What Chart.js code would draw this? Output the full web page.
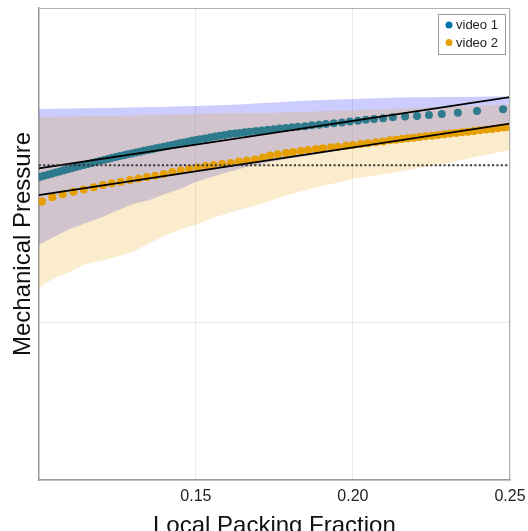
<!DOCTYPE html>
<html>
<head>
<meta charset="utf-8">
<script src="https://cdn.jsdelivr.net/npm/chart.js@4/dist/chart.umd.min.js"></script>
<style>
html,body{margin:0;padding:0;background:#fff;}
#wrap{width:528px;height:531px;}
</style>
</head>
<body>
<div id="wrap"><canvas id="c" width="528" height="531"></canvas></div>
<script>
// ---------- data ----------
const seriesNames = ["video 1", "video 2"];
const xTickValues = [0.15, 0.20, 0.25];

const blueX = [0.1003,0.1016,0.1029,0.1041,0.1054,0.1067,0.1080,0.1092,0.1105,0.1118,0.1131,0.1143,0.1156,0.1169,0.1182,0.1194,0.1207,0.1220,0.1232,0.1245,0.1258,0.1271,0.1283,0.1296,0.1309,0.1322,0.1334,0.1347,0.1360,0.1373,0.1385,0.1398,0.1411,0.1424,0.1436,0.1449,0.1462,0.1475,0.1487,0.1500,0.1513,0.1529,0.1545,0.1561,0.1576,0.1592,0.1608,0.1624,0.1640,0.1656,0.1672,0.1691,0.1710,0.1729,0.1748,0.1767,0.1787,0.1806,0.1825,0.1847,0.1869,0.1892,0.1914,0.1939,0.1965,0.1990,0.2016,0.2041,0.2067,0.2096,0.2127,0.2166,0.2204,0.2242,0.2283,0.2334,0.2395,0.2478];
const blueY = [1.926,1.933,1.940,1.947,1.954,1.961,1.968,1.975,1.982,1.989,1.996,2.002,2.008,2.015,2.021,2.028,2.034,2.040,2.047,2.053,2.059,2.064,2.070,2.075,2.081,2.086,2.092,2.097,2.103,2.108,2.113,2.118,2.124,2.129,2.134,2.140,2.145,2.150,2.156,2.161,2.165,2.171,2.177,2.183,2.188,2.193,2.199,2.203,2.206,2.210,2.213,2.218,2.222,2.226,2.230,2.234,2.238,2.242,2.246,2.249,2.254,2.258,2.262,2.267,2.273,2.279,2.284,2.289,2.294,2.300,2.305,2.310,2.314,2.320,2.326,2.335,2.345,2.356];

const orangeX = [0.1010,0.1043,0.1076,0.1110,0.1143,0.1175,0.1204,0.1232,0.1261,0.1290,0.1317,0.1344,0.1371,0.1398,0.1425,0.1452,0.1479,0.1506,0.1532,0.1557,0.1584,0.1611,0.1637,0.1662,0.1688,0.1713,0.1736,0.1761,0.1787,0.1809,0.1834,0.1857,0.1882,0.1904,0.1930,0.1952,0.1978,0.2000,0.2025,0.2048,0.2073,0.2096,0.2118,0.2137,0.2156,0.2175,0.2194,0.2213,0.2232,0.2252,0.2271,0.2290,0.2309,0.2328,0.2347,0.2366,0.2385,0.2404,0.2424,0.2443,0.2462,0.2481,0.2497];
const orangeY = [1.770,1.797,1.816,1.832,1.846,1.860,1.875,1.886,1.896,1.907,1.917,1.926,1.933,1.945,1.957,1.967,1.977,1.986,1.996,2.002,2.008,2.015,2.024,2.031,2.037,2.050,2.063,2.070,2.078,2.085,2.091,2.097,2.104,2.108,2.115,2.118,2.125,2.129,2.136,2.140,2.146,2.152,2.159,2.163,2.167,2.172,2.176,2.180,2.185,2.188,2.193,2.197,2.202,2.206,2.210,2.214,2.218,2.223,2.227,2.231,2.235,2.240,2.244];

const bandX = [0.100,0.105,0.110,0.115,0.120,0.125,0.130,0.135,0.140,0.145,0.150,0.155,0.160,0.165,0.170,0.175,0.180,0.185,0.190,0.195,0.200,0.205,0.210,0.215,0.220,0.225,0.230,0.235,0.240,0.245,0.250];
const blueUpper = [2.358,2.360,2.361,2.363,2.364,2.366,2.368,2.370,2.371,2.375,2.377,2.380,2.383,2.388,2.394,2.399,2.405,2.410,2.415,2.418,2.422,2.425,2.428,2.431,2.432,2.433,2.434,2.435,2.436,2.437,2.438];
const blueLower = [1.494,1.547,1.597,1.633,1.670,1.713,1.755,1.778,1.816,1.850,1.894,1.926,1.956,1.983,2.005,2.026,2.043,2.059,2.075,2.091,2.107,2.124,2.139,2.155,2.167,2.179,2.191,2.204,2.217,2.230,2.244];
const orangeUpper = [2.307,2.309,2.310,2.312,2.314,2.315,2.317,2.320,2.322,2.325,2.328,2.329,2.332,2.333,2.333,2.335,2.338,2.341,2.343,2.347,2.350,2.354,2.357,2.361,2.364,2.368,2.370,2.375,2.380,2.384,2.387];
const orangeLower = [1.220,1.286,1.324,1.375,1.394,1.421,1.450,1.503,1.552,1.592,1.624,1.662,1.695,1.724,1.750,1.783,1.817,1.844,1.868,1.890,1.913,1.929,1.945,1.961,1.979,1.997,2.015,2.036,2.057,2.077,2.097];

const fitX = [0.10, 0.25];
const fit1Y = [1.981, 2.434];
const fit2Y = [1.811, 2.265];
const refLevel = 2.0;

// ---------- build ----------
const zip = (xs, ys) => xs.map((x, i) => ({x: x, y: ys[i]}));
const BLUE = '#0072B2', ORANGE = '#E69F00';
const FONT = "'Liberation Sans', Arial, Helvetica, sans-serif";

const frameAndLegend = {
  id: 'frameAndLegend',
  afterDatasetsDraw(chart) {
    const {ctx, chartArea: a} = chart;
    ctx.save();
    ctx.strokeStyle = '#b0b0b0';
    ctx.lineWidth = 1;
    ctx.beginPath();
    ctx.moveTo(a.left, a.top + 0.5); ctx.lineTo(a.right - 0.5, a.top + 0.5); ctx.lineTo(a.right - 0.5, a.bottom);
    ctx.stroke();
    // legend box
    const bw = 67, bh = 40;
    const bx = a.right - 5 - bw, by = a.top + 6;
    ctx.fillStyle = '#fff';
    ctx.fillRect(bx, by, bw, bh);
    ctx.strokeStyle = '#999';
    ctx.strokeRect(bx + 0.5, by + 0.5, bw, bh);
    const cols = [BLUE, ORANGE];
    ctx.font = '13px ' + FONT;
    ctx.textBaseline = 'middle';
    ctx.textAlign = 'left';
    seriesNames.forEach((n, i) => {
      const cy = by + 11 + i * 17.5;
      ctx.fillStyle = cols[i];
      ctx.beginPath(); ctx.arc(bx + 11, cy, 3.5, 0, Math.PI * 2); ctx.fill();
      ctx.fillStyle = '#222';
      ctx.fillText(n, bx + 18, cy + 0.5);
    });
    ctx.restore();
  }
};

new Chart(document.getElementById('c'), {
  type: 'line',
  data: {
    datasets: [
      {label: 'band1u', data: zip(bandX, blueUpper), borderWidth: 0, pointRadius: 0, fill: '+1', backgroundColor: 'rgba(0,0,255,0.2)', order: 6},
      {label: 'band1l', data: zip(bandX, blueLower), borderWidth: 0, pointRadius: 0, fill: false, order: 6},
      {label: seriesNames[0], data: zip(blueX, blueY), showLine: false, pointRadius: 4, pointBorderWidth: 0, pointBackgroundColor: BLUE, backgroundColor: BLUE, order: 5},
      {label: 'band2u', data: zip(bandX, orangeUpper), borderWidth: 0, pointRadius: 0, fill: '+1', backgroundColor: 'rgba(230,159,0,0.2)', order: 4},
      {label: 'band2l', data: zip(bandX, orangeLower), borderWidth: 0, pointRadius: 0, fill: false, order: 4},
      {label: seriesNames[1], data: zip(orangeX, orangeY), showLine: false, pointRadius: 4, pointBorderWidth: 0, pointBackgroundColor: ORANGE, backgroundColor: ORANGE, order: 3},
      {label: 'fit1', data: zip(fitX, fit1Y), borderColor: '#000', borderWidth: 1.8, pointRadius: 0, fill: false, order: 2},
      {label: 'fit2', data: zip(fitX, fit2Y), borderColor: '#000', borderWidth: 1.8, pointRadius: 0, fill: false, order: 2},
      {label: 'ref', data: zip(fitX, [refLevel, refLevel]), borderColor: '#333', borderWidth: 2, borderDash: [2, 2.4], pointRadius: 0, fill: false, order: 1}
    ]
  },
  options: {
    responsive: false,
    animation: false,
    layout: {padding: {left: 2, top: 8, right: 18, bottom: -14}},
    plugins: {legend: {display: false}, tooltip: {enabled: false}},
    scales: {
      x: {
        type: 'linear', min: 0.1, max: 0.25,
        afterBuildTicks: (s) => { s.ticks = [0.1].concat(xTickValues).map(v => ({value: v})); },
        afterFit: (s) => { s.paddingRight = 18; s.paddingLeft = 0; },
        ticks: {
          padding: 7, color: '#222', font: {size: 16, family: FONT},
          maxRotation: 0,
          callback: (v) => Math.abs(v - 0.1) < 1e-9 ? '' : v.toFixed(2)
        },
        grid: {color: 'rgba(0,0,0,0.08)', drawTicks: false},
        border: {color: '#999', width: 1.5},
        title: {display: true, text: 'Local Packing Fraction', color: '#111', font: {size: 24, family: FONT}, padding: {top: -1, bottom: 4}}
      },
      y: {
        type: 'linear', min: 0, max: 3,
        ticks: {display: false, stepSize: 1},
        grid: {color: 'rgba(0,0,0,0.08)', drawTicks: false},
        border: {color: '#999', width: 1.5},
        title: {display: true, text: 'Mechanical Pressure', color: '#111', font: {size: 24, family: FONT}, padding: {top: 7, bottom: 1}}
      }
    }
  },
  plugins: [frameAndLegend]
});
</script>
</body>
</html>
